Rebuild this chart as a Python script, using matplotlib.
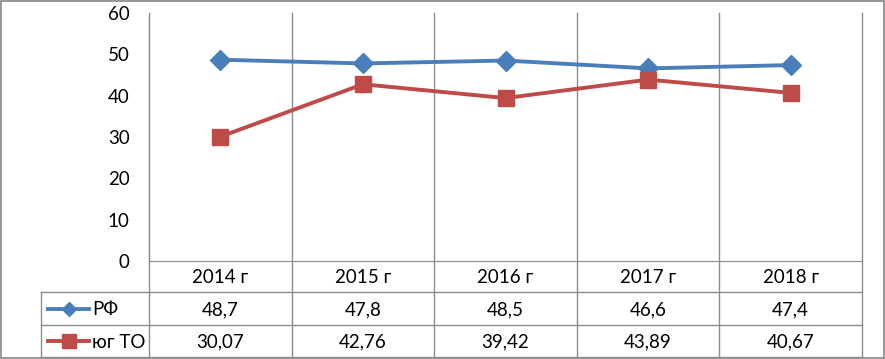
import matplotlib

matplotlib.use("Agg")
import matplotlib.pyplot as plt
from matplotlib.transforms import blended_transform_factory
from matplotlib.lines import Line2D
from matplotlib.patches import Rectangle

# chart data
YEARS = ["2014 г", "2015 г", "2016 г", "2017 г", "2018 г"]
RF = [48.7, 47.8, 48.5, 46.6, 47.4]
RF_LABELS = ["48,7", "47,8", "48,5", "46,6", "47,4"]
SOUTH = [30.07, 42.76, 39.42, 43.89, 40.67]
SOUTH_LABELS = ["30,07", "42,76", "39,42", "43,89", "40,67"]
SERIES_NAMES = ["РФ", "юг ТО"]
Y_TICKS = [0, 10, 20, 30, 40, 50, 60]

BLUE = "#4a7ebb"
RED = "#be4b48"
GRID = "#8c8c8c"
FONT = "Lato"
FS = 13.5

W, H = 885, 359
fig = plt.figure(figsize=(W / 100, H / 100), dpi=100)

# overlay in pixel coordinates for the data table and frame
over = fig.add_axes([0, 0, 1, 1])
over.set_xlim(0, W)
over.set_ylim(H, 0)
over.axis("off")

left, right, top, zero = 149, 862, 13, 261
ax = fig.add_axes([left / W, (H - zero) / H, (right - left) / W, (zero - top) / H])
ax.set_xlim(-0.5, len(YEARS) - 0.5)
ax.set_ylim(0, 60)
ax.set_yticks(Y_TICKS)
ax.set_yticklabels([str(v) for v in Y_TICKS], fontsize=FS, family=FONT)
ax.set_xticks([])
ax.tick_params(axis="y", length=0, pad=14)
for side in ("top", "right"):
    ax.spines[side].set_visible(False)
ax.spines["left"].set_color(GRID)
ax.spines["bottom"].set_color(GRID)
ax.patch.set_alpha(0)

x = list(range(len(YEARS)))
ax.plot(x, RF, color=BLUE, lw=2.8, marker="D", ms=10, mec=BLUE, mfc=BLUE, zorder=3, clip_on=False)
ax.plot(x, SOUTH, color=RED, lw=2.8, marker="s", ms=11.5, mec=RED, mfc=RED, zorder=3, clip_on=False)

# data table drawn below the plot area
bt = blended_transform_factory(ax.transData, over.transData)
row_y = [261, 292, 325, 357]
table_left = 41
for i in range(len(YEARS) + 1):
    xb = i - 0.5
    over.add_line(Line2D([xb, xb], [top, row_y[-1]], transform=bt, color=GRID, lw=1))
for yy in row_y[1:]:
    over.plot([table_left, right], [yy, yy], color=GRID, lw=1)
over.plot([table_left, table_left], [row_y[1], row_y[-1]], color=GRID, lw=1)

for i, yr in enumerate(YEARS):
    over.text(i, (row_y[0] + row_y[1]) / 2 + 1, yr, transform=bt, ha="center", va="center",
              fontsize=FS, family=FONT)
    over.text(i, (row_y[1] + row_y[2]) / 2 + 1, RF_LABELS[i], transform=bt, ha="center",
              va="center", fontsize=FS, family=FONT)
    over.text(i, (row_y[2] + row_y[3]) / 2 + 1, SOUTH_LABELS[i], transform=bt, ha="center",
              va="center", fontsize=FS, family=FONT)

# legend keys inside the table
for (name, color, marker, ms), (ya, yb) in zip(
    [(SERIES_NAMES[0], BLUE, "D", 7.5), (SERIES_NAMES[1], RED, "s", 9.5)],
    [(row_y[1], row_y[2]), (row_y[2], row_y[3])],
):
    yc = (ya + yb) / 2
    over.plot([48, 89], [yc, yc], color=color, lw=2.8)
    over.plot([68.5], [yc], marker=marker, ms=ms, color=color)
    over.text(92, yc + 1, name, ha="left", va="center", fontsize=FS, family=FONT)

# outer chart frame
over.add_patch(Rectangle((0.5, 0.5), W - 2, H - 2, fill=False, ec="#868686", lw=1.2))

fig.savefig("out.png", dpi=100)
